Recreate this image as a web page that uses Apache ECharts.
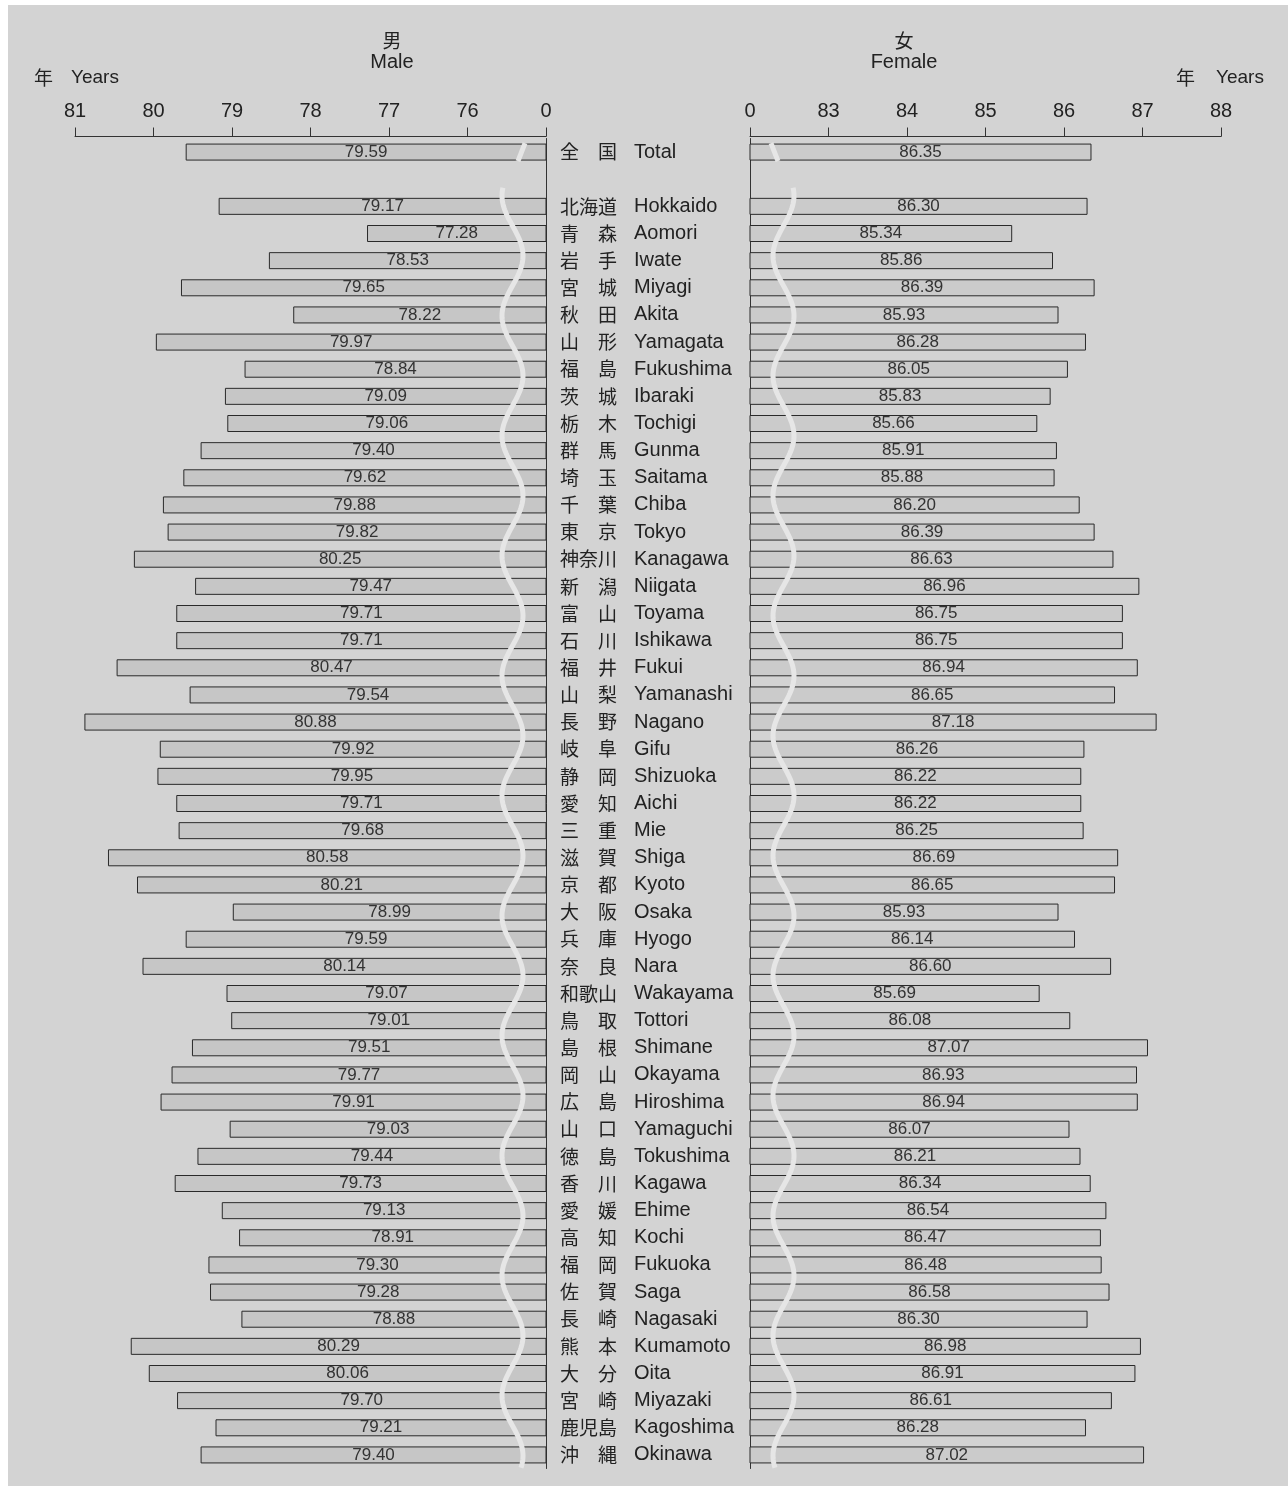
<!DOCTYPE html>
<html>
<head>
<meta charset="utf-8">
<script src="https://cdn.jsdelivr.net/npm/echarts@6/dist/echarts.min.js"></script>
<style>
  body { margin: 0; background: #fff; }
  #chart { position: absolute; left: 8px; top: 5px; width: 1280px; height: 1481px; background: #d3d3d3; }
</style>
</head>
<body>
<div id="chart"></div>
<script>
// 都道府県（先頭は全国、2番目は空行）
var namesJa = ["全国", "", "北海道", "青森", "岩手", "宮城", "秋田", "山形", "福島", "茨城", "栃木", "群馬",
  "埼玉", "千葉", "東京", "神奈川", "新潟", "富山", "石川", "福井", "山梨", "長野", "岐阜", "静岡", "愛知",
  "三重", "滋賀", "京都", "大阪", "兵庫", "奈良", "和歌山", "鳥取", "島根", "岡山", "広島", "山口", "徳島",
  "香川", "愛媛", "高知", "福岡", "佐賀", "長崎", "熊本", "大分", "宮崎", "鹿児島", "沖縄"];
var namesEn = ["Total", "", "Hokkaido", "Aomori", "Iwate", "Miyagi", "Akita", "Yamagata", "Fukushima",
  "Ibaraki", "Tochigi", "Gunma", "Saitama", "Chiba", "Tokyo", "Kanagawa", "Niigata", "Toyama", "Ishikawa",
  "Fukui", "Yamanashi", "Nagano", "Gifu", "Shizuoka", "Aichi", "Mie", "Shiga", "Kyoto", "Osaka", "Hyogo",
  "Nara", "Wakayama", "Tottori", "Shimane", "Okayama", "Hiroshima", "Yamaguchi", "Tokushima", "Kagawa",
  "Ehime", "Kochi", "Fukuoka", "Saga", "Nagasaki", "Kumamoto", "Oita", "Miyazaki", "Kagoshima", "Okinawa"];

// 男 Male
var male = [79.59, null, 79.17, 77.28, 78.53, 79.65, 78.22, 79.97, 78.84, 79.09, 79.06, 79.40,
  79.62, 79.88, 79.82, 80.25, 79.47, 79.71, 79.71, 80.47, 79.54, 80.88, 79.92, 79.95, 79.71,
  79.68, 80.58, 80.21, 78.99, 79.59, 80.14, 79.07, 79.01, 79.51, 79.77, 79.91, 79.03, 79.44,
  79.73, 79.13, 78.91, 79.30, 79.28, 78.88, 80.29, 80.06, 79.70, 79.21, 79.40];
// 女 Female
var female = [86.35, null, 86.30, 85.34, 85.86, 86.39, 85.93, 86.28, 86.05, 85.83, 85.66, 85.91,
  85.88, 86.20, 86.39, 86.63, 86.96, 86.75, 86.75, 86.94, 86.65, 87.18, 86.26, 86.22, 86.22,
  86.25, 86.69, 86.65, 85.93, 86.14, 86.60, 85.69, 86.08, 87.07, 86.93, 86.94, 86.07, 86.21,
  86.34, 86.54, 86.47, 86.48, 86.58, 86.30, 86.98, 86.91, 86.61, 86.28, 87.02];

// 軸の範囲（左端の値は "0" と表示する省略軸）
var maleRange = [75, 81];
var femaleRange = [82, 88];

var font = "'Liberation Sans', 'Noto Sans CJK JP', sans-serif";
var cats = namesEn.map(function (n, i) { return String(i); });

function jaLabel(s) {
  if (s.length === 2) return s.charAt(0) + "\u3000" + s.charAt(1);
  return s;
}

// 省略記号の波線
function waveItem(base, sign) {
  return function (params, api) {
    var axisX = api.coord([base, 0])[0];
    var band = api.size([0, 1])[1];
    var yTot = api.coord([base, 0])[1];
    var y0 = api.coord([base, 2])[1] - band / 2 - 5;
    var y1 = api.coord([base, namesEn.length - 1])[1] + band / 2;
    var pts = [];
    for (var y = y0; y <= y1; y += 2) {
      var d = 33.5 + 10.5 * Math.cos(2 * Math.PI * (y - y0 - 8) / 120);
      pts.push([axisX - sign * d, y]);
    }
    var st = { stroke: "#e6e6e6", lineWidth: 5, fill: null };
    return {
      type: "group",
      children: [
        { type: "polyline", shape: { points: pts }, style: st },
        { type: "line", shape: { x1: axisX - sign * 21, y1: yTot - 9, x2: axisX - sign * 28, y2: yTot + 9 }, style: st }
      ]
    };
  };
}

var chart = echarts.init(document.getElementById("chart"));

function valueAxis(idx, range) {
  return {
    type: "value",
    gridIndex: idx,
    position: "top",
    offset: 2,
    min: range[0],
    max: range[1],
    interval: 1,
    inverse: idx === 0,
    splitLine: { show: false },
    axisLine: { show: true, lineStyle: { color: "#333", width: 1 } },
    axisTick: { show: true, length: 9, lineStyle: { color: "#333" } },
    axisLabel: {
      margin: 15, fontSize: 20, color: "#222", fontFamily: font,
      showMinLabel: true, showMaxLabel: true,
      formatter: function (v) { return v === range[0] ? "0" : String(v); }
    }
  };
}

function barSeries(idx, data, color) {
  return {
    type: "bar",
    xAxisIndex: idx,
    yAxisIndex: idx,
    data: data,
    barWidth: 17,
    clip: true,
    itemStyle: { color: color, borderColor: "#2a2a2a", borderWidth: 1 },
    label: {
      show: true, position: "inside", fontSize: 17, color: "#333", fontFamily: font,
      formatter: function (p) { return p.value.toFixed(2); }
    },
    silent: true
  };
}

chart.setOption({
  animation: false,
  grid: [
    { left: 67, top: 133.5, width: 471, height: 1330 },
    { left: 742, top: 133.5, width: 471, height: 1330 }
  ],
  xAxis: [valueAxis(0, maleRange), valueAxis(1, femaleRange)],
  yAxis: [
    {
      type: "category", gridIndex: 0, data: cats, inverse: true, position: "right",
      axisLine: { show: true, lineStyle: { color: "#333" } },
      axisTick: { show: false },
      axisLabel: {
        margin: 14, interval: 0, fontFamily: font, color: "#222",
        formatter: function (v) {
          var i = +v;
          if (!namesEn[i]) return "";
          return "{j|" + jaLabel(namesJa[i]) + "}{e|" + namesEn[i] + "}";
        },
        rich: {
          j: { width: 74, fontSize: 19, fontFamily: "'Noto Sans CJK JP', sans-serif", color: "#222" },
          e: { fontSize: 20, fontFamily: font, color: "#222" }
        }
      }
    },
    {
      type: "category", gridIndex: 1, data: cats, inverse: true, position: "left",
      axisLine: { show: true, lineStyle: { color: "#333" } },
      axisTick: { show: false },
      axisLabel: { show: false }
    }
  ],
  series: [
    barSeries(0, male, "#c6c6c6"),
    barSeries(1, female, "#cbcbcb"),
    { type: "custom", xAxisIndex: 0, yAxisIndex: 0, data: [[maleRange[0], 0]], z: 5, silent: true,
      renderItem: waveItem(maleRange[0], 1) },
    { type: "custom", xAxisIndex: 1, yAxisIndex: 1, data: [[femaleRange[0], 0]], z: 5, silent: true,
      renderItem: waveItem(femaleRange[0], -1) }
  ],
  graphic: [
    { type: "text", x: 384, y: 36, style: { text: "男", font: "19px 'Noto Sans CJK JP'", fill: "#222", textAlign: "center", textVerticalAlign: "middle" } },
    { type: "text", x: 384, y: 57, style: { text: "Male", font: "20px 'Liberation Sans'", fill: "#222", textAlign: "center", textVerticalAlign: "middle" } },
    { type: "text", x: 896, y: 36, style: { text: "女", font: "19px 'Noto Sans CJK JP'", fill: "#222", textAlign: "center", textVerticalAlign: "middle" } },
    { type: "text", x: 896, y: 57, style: { text: "Female", font: "20px 'Liberation Sans'", fill: "#222", textAlign: "center", textVerticalAlign: "middle" } },
    { type: "text", x: 26, y: 73, style: { text: "年", font: "19px 'Noto Sans CJK JP'", fill: "#222", textVerticalAlign: "middle" } },
    { type: "text", x: 63, y: 73, style: { text: "Years", font: "19px 'Liberation Sans'", fill: "#222", textVerticalAlign: "middle" } },
    { type: "text", x: 1168, y: 73, style: { text: "年", font: "19px 'Noto Sans CJK JP'", fill: "#222", textVerticalAlign: "middle" } },
    { type: "text", x: 1208, y: 73, style: { text: "Years", font: "19px 'Liberation Sans'", fill: "#222", textVerticalAlign: "middle" } }
  ]
});
</script>
</body>
</html>
